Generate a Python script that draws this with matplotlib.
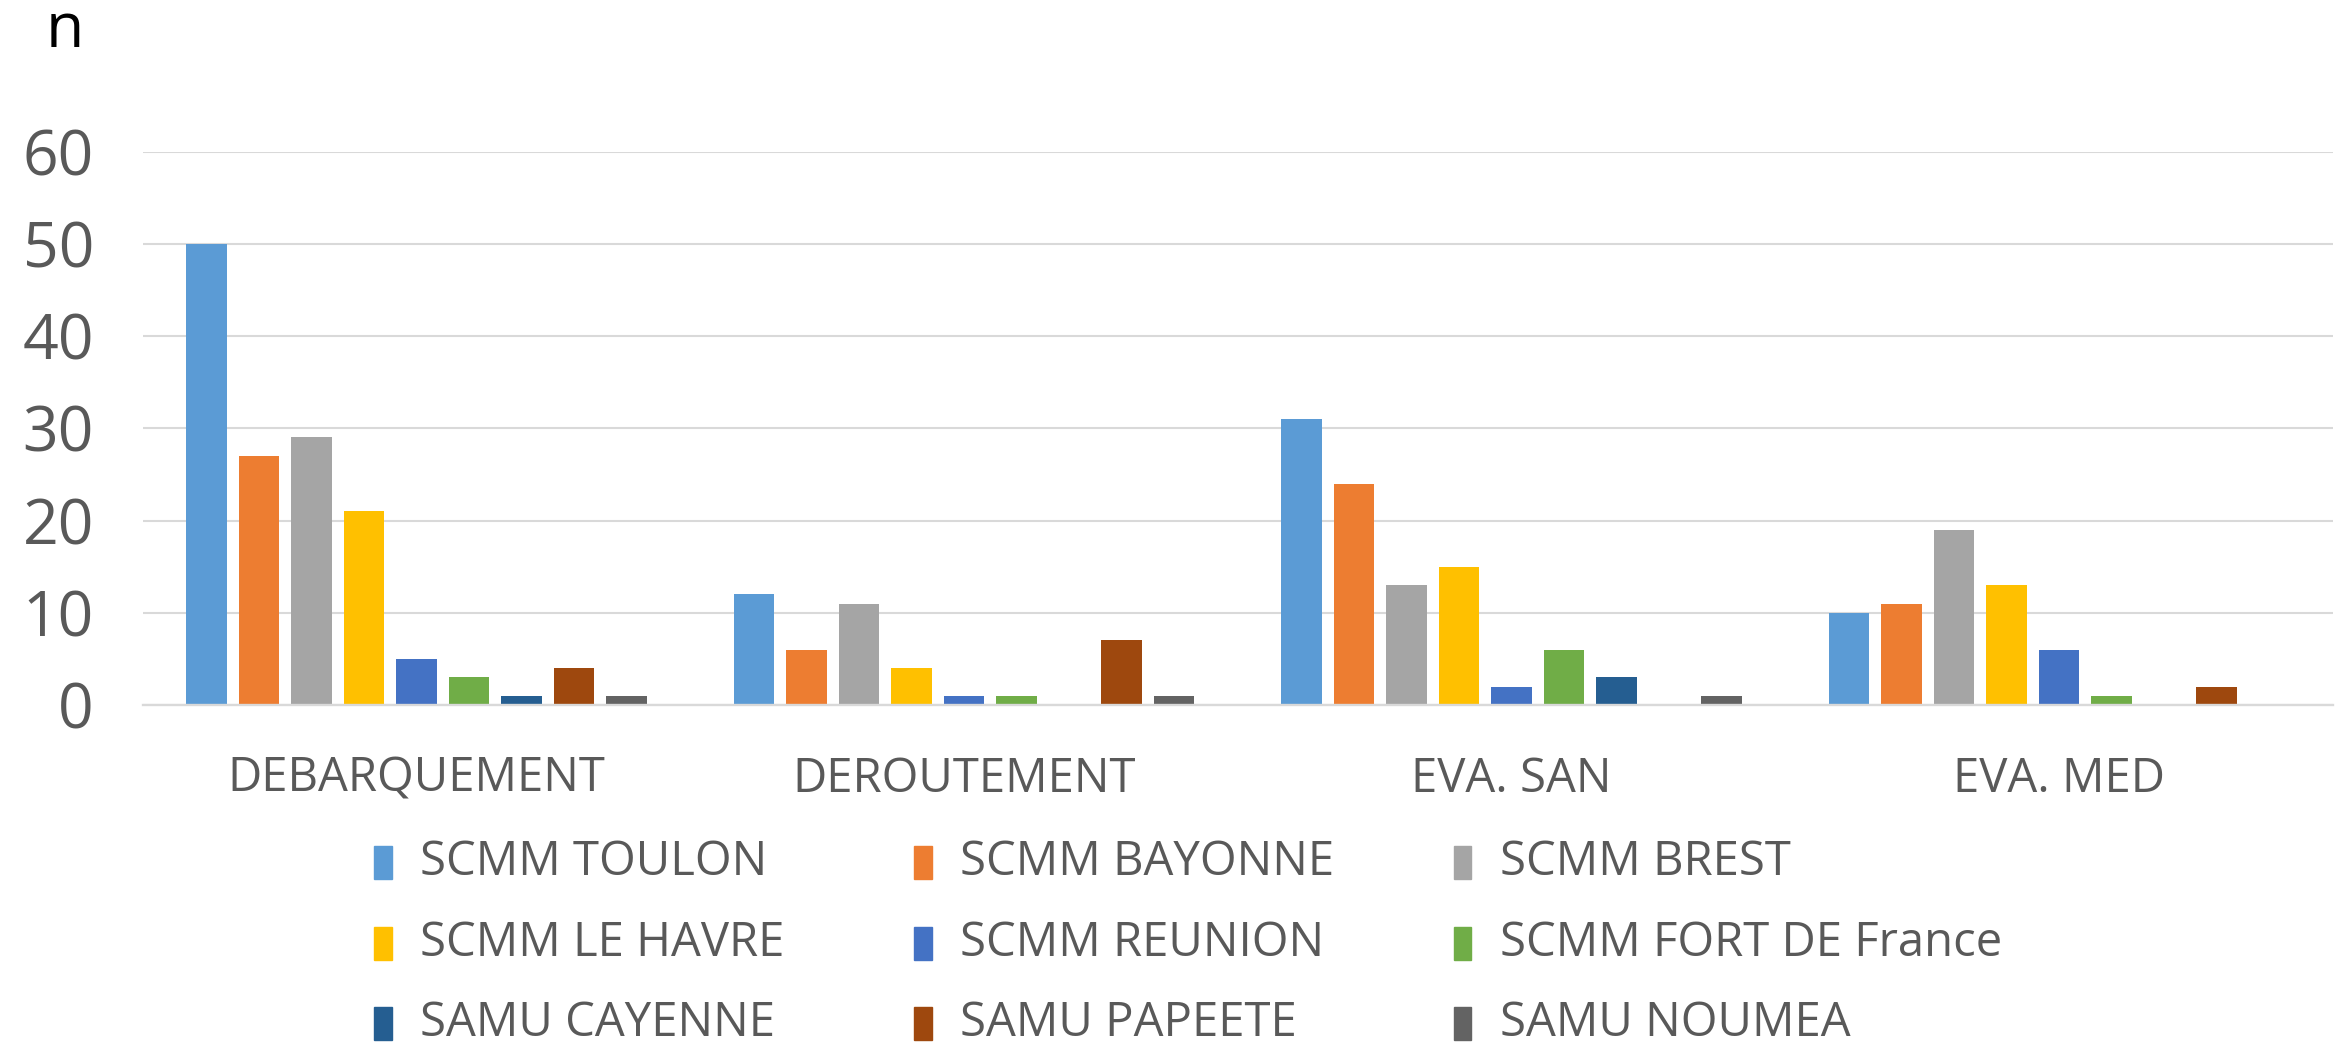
import matplotlib
matplotlib.use("Agg")
import matplotlib.pyplot as plt
from matplotlib.patches import Rectangle
import numpy as np

categories = ["DEBARQUEMENT", "DEROUTEMENT", "EVA. SAN", "EVA. MED"]
series = ["SCMM TOULON", "SCMM BAYONNE", "SCMM BREST",
          "SCMM LE HAVRE", "SCMM REUNION", "SCMM FORT DE France",
          "SAMU CAYENNE", "SAMU PAPEETE", "SAMU NOUMEA"]
scmm_toulon = [50, 12, 31, 10]
scmm_bayonne = [27, 6, 24, 11]
scmm_brest = [29, 11, 13, 19]
scmm_le_havre = [21, 4, 15, 13]
scmm_reunion = [5, 1, 2, 6]
scmm_fort_de_france = [3, 1, 6, 1]
samu_cayenne = [1, 0, 3, 0]
samu_papeete = [4, 7, 0, 2]
samu_noumea = [1, 1, 1, 0]
values = [scmm_toulon, scmm_bayonne, scmm_brest, scmm_le_havre, scmm_reunion,
          scmm_fort_de_france, samu_cayenne, samu_papeete, samu_noumea]
colors = ["#5B9BD5", "#ED7D31", "#A5A5A5", "#FFC000", "#4472C4",
          "#70AD47", "#255E91", "#9E480E", "#636363"]
yticks = [0, 10, 20, 30, 40, 50, 60]

FONT = ["Open Sans", "DejaVu Sans"]
plt.rcParams["font.family"] = FONT

W, H = 2351, 1043
fig = plt.figure(figsize=(W / 100, H / 100), dpi=100)
ax = fig.add_axes([142.5 / W, 1 - 705 / H, (2333 - 142.5) / W, (705 - 151.5) / H])

x = np.arange(len(categories))
pitch = 35 / 365
bw = 27 / 365
for i, (vals, c) in enumerate(zip(values, colors)):
    ax.bar(x + (i - 4) * pitch, vals, width=bw, color=c, zorder=3)

ax.set_xlim(-0.5, len(categories) - 0.5)
ax.set_ylim(0, 60)
ax.set_yticks(yticks)
ax.set_yticklabels([str(t) for t in yticks])
ax.set_xticks(x)
ax.set_xticklabels(categories)
ax.tick_params(axis="y", length=0, pad=35, labelsize=45, labelcolor="#595959")
ax.tick_params(axis="x", length=0, pad=36, labelsize=34, labelcolor="#595959")
ax.grid(axis="y", color="#D9D9D9", linewidth=1.5, zorder=0)
for s in ["top", "right", "left"]:
    ax.spines[s].set_visible(False)
ax.spines["bottom"].set_color("#D9D9D9")
ax.spines["bottom"].set_linewidth(1.7)
ax.spines["bottom"].set_zorder(4)

fig.text(65 / W, 1 - 31 / H, "n", fontsize=45, color="black", ha="center", va="center")

# legend (3 columns, row-major)
col_x = [373.5, 913.5, 1453.5]
row_y = [862, 943, 1023]
sw_w, sw_h = 18, 33
for k, (name, c) in enumerate(zip(series, colors)):
    r, cc = divmod(k, 3)
    x0 = col_x[cc]
    yc = row_y[r]
    fig.add_artist(Rectangle((x0 / W, 1 - (yc + sw_h / 2) / H), sw_w / W, sw_h / H,
                             transform=fig.transFigure, color=c))
    fig.text((x0 + 46) / W, 1 - yc / H, name, fontsize=34, color="#595959",
             ha="left", va="center")

fig.savefig("out.png", dpi=100)
